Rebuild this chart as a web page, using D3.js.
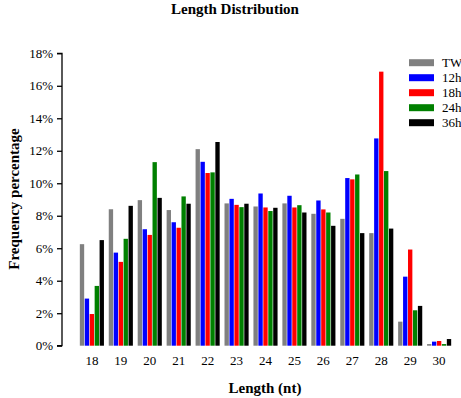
<!DOCTYPE html>
<html>
<head>
<meta charset="utf-8">
<script src="https://cdn.jsdelivr.net/npm/d3@7"></script>
<style>
  body { margin: 0; background: #fff; }
  svg text { font-family: "Liberation Serif", "Times New Roman", serif; fill: #000; }
</style>
</head>
<body>
<div id="chart"></div>
<script>
// Values in percent
const lengths = [18, 19, 20, 21, 22, 23, 24, 25, 26, 27, 28, 29, 30];
const seriesNames = ['TW', '12h', '18h', '24h', '36h'];
const seriesColors = ['#808080', '#0000ff', '#ff0000', '#008000', '#000000'];
const tw  = [6.25, 8.4, 8.96, 8.35, 12.1, 8.76, 8.57, 8.76, 8.12, 7.81, 6.93, 1.48, 0.1];
const h12 = [2.9, 5.73, 7.17, 7.6, 11.32, 9.04, 9.37, 9.23, 8.94, 10.32, 12.76, 4.25, 0.25];
const h18 = [1.95, 5.16, 6.82, 7.26, 10.63, 8.67, 8.51, 8.51, 8.39, 10.24, 16.87, 5.92, 0.29];
const h24 = [3.68, 6.58, 11.3, 9.19, 10.67, 8.53, 8.29, 8.65, 8.2, 10.54, 10.75, 2.18, 0.1];
const h36 = [6.5, 8.61, 9.1, 8.74, 12.54, 8.74, 8.49, 8.2, 7.38, 6.93, 7.21, 2.45, 0.41];
const yTicks = [0, 2, 4, 6, 8, 10, 12, 14, 16, 18];

const seriesValues = [tw, h12, h18, h24, h36];

const width = 461, height = 398;
const plotTop = 53.3, plotBottom = 345.7;

const svg = d3.select('#chart').append('svg')
  .attr('width', width)
  .attr('height', height);

const x0 = d3.scaleBand()
  .domain(lengths)
  .range([75, 456])
  .paddingInner(1 / 6)
  .paddingOuter(1 / 6);

const x1 = d3.scaleBand()
  .domain(seriesNames)
  .range([0, x0.bandwidth()])
  .paddingInner(0.12);

const y = d3.scaleLinear()
  .domain([0, 18])
  .range([plotBottom, plotTop]);

// Bars
const rows = lengths.map((len, i) => ({
  len,
  values: seriesNames.map((name, s) => ({ name, color: seriesColors[s], value: seriesValues[s][i] }))
}));

svg.append('g')
  .selectAll('g')
  .data(rows)
  .enter()
  .append('g')
  .attr('transform', d => `translate(${x0(d.len)},0)`)
  .selectAll('rect')
  .data(d => d.values)
  .enter()
  .append('rect')
  .attr('x', d => x1(d.name))
  .attr('y', d => y(d.value))
  .attr('width', x1.bandwidth())
  .attr('height', d => y(0) - y(d.value))
  .attr('fill', d => d.color);

// Y axis
const yAxis = svg.append('g')
  .attr('transform', 'translate(62,0)')
  .call(d3.axisLeft(y).tickValues(yTicks).tickSize(5).tickPadding(4).tickFormat(d => d + '%'));
yAxis.attr('font-family', null);
yAxis.select('.domain').attr('stroke', '#000').attr('stroke-width', 1.3).attr('d', `M-5,${y(0)}H0V${y(18)}H-5`);
yAxis.selectAll('.tick line').attr('stroke', '#000').attr('stroke-width', 1.3);
yAxis.selectAll('text').style('font-size', '13px');

// X axis labels (no line)
const xAxis = svg.append('g')
  .attr('transform', `translate(0,${plotBottom})`)
  .call(d3.axisBottom(x0).tickSize(0).tickPadding(10));
xAxis.attr('font-family', null);
xAxis.select('.domain').remove();
xAxis.selectAll('text').style('font-size', '13px');

// Title and axis titles
svg.append('text')
  .attr('x', 235).attr('y', 14)
  .attr('text-anchor', 'middle')
  .style('font-size', '15px').style('font-weight', 'bold')
  .text('Length Distribution');

svg.append('text')
  .attr('x', 265).attr('y', 393)
  .attr('text-anchor', 'middle')
  .style('font-size', '15px').style('font-weight', 'bold')
  .text('Length (nt)');

svg.append('text')
  .attr('transform', 'translate(19,199) rotate(-90)')
  .attr('text-anchor', 'middle')
  .style('font-size', '15px').style('font-weight', 'bold')
  .text('Frequency percentage');

// Legend
const legend = svg.append('g').attr('transform', 'translate(409,62.7)');
const item = legend.selectAll('g')
  .data(seriesNames)
  .enter()
  .append('g')
  .attr('transform', (d, i) => `translate(0,${i * 15})`);
item.append('rect')
  .attr('x', 0).attr('y', -3.5)
  .attr('width', 25).attr('height', 7)
  .attr('fill', (d, i) => seriesColors[i]);
item.append('text')
  .attr('x', 33).attr('y', 4.5)
  .style('font-size', '13px')
  .text(d => d);
</script>
</body>
</html>
